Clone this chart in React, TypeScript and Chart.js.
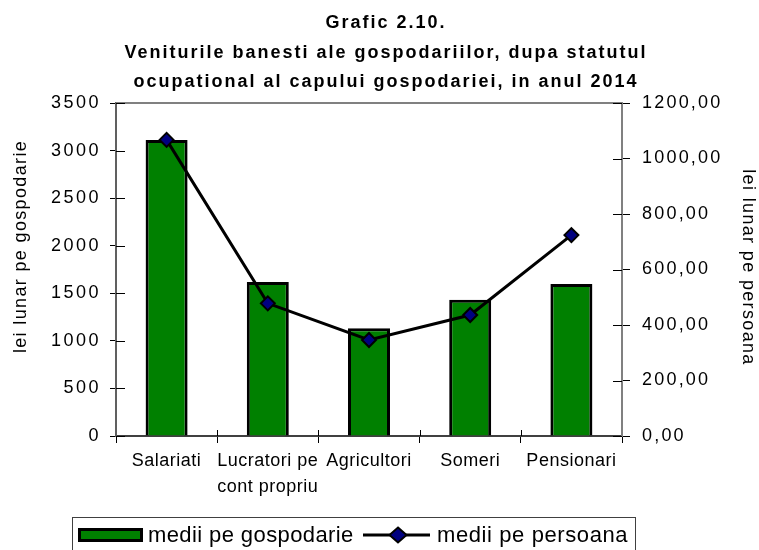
import React, { useEffect, useRef } from "react";
import { Chart, registerables } from "chart.js";

Chart.register(...registerables);

const categories: string[][] = [
  ["Salariati"],
  ["Lucratori pe", "cont propriu"],
  ["Agricultori"],
  ["Someri"],
  ["Pensionari"],
];
const householdValues = [3112, 1619, 1133, 1432, 1598];
const personValues = [1067, 478, 346, 436, 724];
const titleLines = [
  "Grafic 2.10.",
  "Veniturile banesti ale gospodariilor, dupa statutul",
  "ocupational al capului gospodariei, in anul 2014",
];
const leftAxisTitle = "lei lunar pe gospodarie";
const rightAxisTitle = "lei lunar pe persoana";
const seriesNames = ["medii pe gospodarie", "medii pe persoana"];

const FONT = "Arial, 'Liberation Sans', sans-serif";
const GREEN = "#008000";
const NAVY = "#000080";

function patchScale(scale: any, labelSpacing: string, titleSpacing: string, titleShiftY: number) {
  if (!scale || scale.__patched) return;
  const origLabels = scale.drawLabels;
  scale.drawLabels = function (area: any) {
    const c = this.ctx;
    c.save();
    (c as any).letterSpacing = labelSpacing;
    origLabels.call(this, area);
    c.restore();
  };
  const origTitle = scale.drawTitle;
  scale.drawTitle = function () {
    const c = this.ctx;
    c.save();
    (c as any).letterSpacing = titleSpacing;
    c.translate(0, titleShiftY);
    origTitle.call(this);
    c.restore();
  };
  scale.__patched = true;
}

const decorPlugin = {
  id: "decor",
  afterUpdate(chart: any) {
    patchScale(chart.scales.y, "2.5px", "1.35px", -23);
    patchScale(chart.scales.y1, "2.2px", "1.35px", -2);
    patchScale(chart.scales.x, "0.5px", "0px", 0);
  },
  beforeDatasetsDraw(chart: any) {
    const { ctx, chartArea, scales } = chart;
    ctx.save();
    ctx.strokeStyle = "#808080";
    ctx.lineWidth = 2;
    ctx.beginPath();
    ctx.moveTo(chartArea.left, chartArea.top);
    ctx.lineTo(chartArea.right, chartArea.top);
    ctx.stroke();
    // inward halves of tick marks
    ctx.strokeStyle = "#000";
    ctx.lineWidth = 1;
    ctx.beginPath();
    scales.y.ticks.forEach((t: any) => {
      const py = Math.round(scales.y.getPixelForValue(t.value)) + 0.5;
      ctx.moveTo(chartArea.left, py);
      ctx.lineTo(chartArea.left + 9, py);
    });
    scales.y1.ticks.forEach((t: any) => {
      const py = Math.round(scales.y1.getPixelForValue(t.value)) + 0.5;
      ctx.moveTo(chartArea.right - 9, py);
      ctx.lineTo(chartArea.right, py);
    });
    const n = categories.length;
    const step = (chartArea.right - chartArea.left) / n;
    for (let i = 1; i < n; i++) {
      const px = Math.round(chartArea.left + step * i) + 0.5;
      ctx.moveTo(px, chartArea.bottom - 6);
      ctx.lineTo(px, chartArea.bottom);
    }
    ctx.stroke();
    ctx.restore();
  },
  afterDraw(chart: any) {
    const { ctx } = chart;
    ctx.save();
    // title
    ctx.fillStyle = "#000";
    ctx.font = `bold 18px ${FONT}`;
    ctx.textAlign = "center";
    ctx.textBaseline = "alphabetic";
    (ctx as any).letterSpacing = "2px";
    const baselines = [28, 58, 87];
    titleLines.forEach((t, i) => ctx.fillText(t, 386, baselines[i]));
    (ctx as any).letterSpacing = "0px";

    // legend frame
    ctx.strokeStyle = "#404040";
    ctx.lineWidth = 1;
    ctx.strokeRect(72.5, 517.5, 563, 40);

    // bar swatch
    ctx.fillStyle = GREEN;
    ctx.fillRect(78, 528, 65, 14);
    ctx.strokeStyle = "#000";
    ctx.lineWidth = 3;
    ctx.strokeRect(79.5, 529.5, 62, 11);

    ctx.font = `22px ${FONT}`;
    (ctx as any).letterSpacing = "0.4px";
    ctx.fillStyle = "#000";
    ctx.textAlign = "left";
    ctx.textBaseline = "alphabetic";
    ctx.fillText(seriesNames[0], 148, 542);

    // line swatch
    ctx.beginPath();
    ctx.moveTo(363, 535);
    ctx.lineTo(430, 535);
    ctx.lineWidth = 3;
    ctx.strokeStyle = "#000";
    ctx.stroke();
    ctx.beginPath();
    ctx.moveTo(398, 527.5);
    ctx.lineTo(406.5, 535);
    ctx.lineTo(398, 542.5);
    ctx.lineTo(389.5, 535);
    ctx.closePath();
    ctx.fillStyle = NAVY;
    ctx.fill();
    ctx.lineWidth = 2;
    ctx.stroke();

    ctx.fillStyle = "#000";
    (ctx as any).letterSpacing = "0.6px";
    ctx.fillText(seriesNames[1], 437, 542);
    ctx.restore();
  },
};

export default function App() {
  const ref = useRef<HTMLCanvasElement | null>(null);

  useEffect(() => {
    document.body.style.margin = "0";
    const canvas = ref.current;
    if (!canvas) return;
    const chart = new Chart(canvas, {
      data: {
        labels: categories as any,
        datasets: [
          {
            type: "line",
            label: seriesNames[1],
            data: personValues,
            yAxisID: "y1",
            borderColor: "#000",
            borderWidth: 3,
            pointStyle: "rectRot",
            pointRadius: 7,
            pointBackgroundColor: NAVY,
            pointBorderColor: "#000",
            pointBorderWidth: 2,
            tension: 0,
            order: 1,
          } as any,
          {
            type: "bar",
            label: seriesNames[0],
            data: householdValues,
            yAxisID: "y",
            backgroundColor: GREEN,
            borderColor: "#000",
            borderWidth: 3,
            barPercentage: 1,
            categoryPercentage: 0.415,
            order: 2,
          } as any,
        ],
      },
      options: {
        responsive: false,
        animation: false,
        layout: { padding: { top: 103, bottom: 44, left: 0, right: 0 } },
        plugins: {
          legend: { display: false },
          tooltip: { enabled: false },
          title: { display: false },
        },
        scales: {
          x: {
            offset: true,
            grid: {
              display: true,
              drawOnChartArea: false,
              offset: true,
              tickLength: 7,
              color: "#000",
            },
            border: { color: "#404040", width: 2 },
            ticks: {
              font: { family: FONT, size: 18, lineHeight: 1.444 },
              color: "#000",
              padding: 5,
              maxRotation: 0,
              autoSkip: false,
            },
            afterFit: (s: any) => {
              s.height = 70;
            },
          },
          y: {
            position: "left",
            min: 0,
            max: 3500,
            ticks: {
              stepSize: 500,
              font: { family: FONT, size: 18 },
              color: "#000",
              padding: 9,
              callback: (v: any) => String(v),
            },
            grid: { drawOnChartArea: false, tickLength: 6, color: "#000" },
            border: { color: "#606060", width: 2 },
            title: {
              display: true,
              text: leftAxisTitle,
              font: { family: FONT, size: 18 },
              color: "#000",
              padding: { top: 10, bottom: 0 },
            },
            afterFit: (s: any) => {
              s.width = 116;
            },
          },
          y1: {
            position: "right",
            min: 0,
            max: 1200,
            ticks: {
              stepSize: 200,
              font: { family: FONT, size: 18 },
              color: "#000",
              padding: 12,
              callback: (v: any) => Number(v).toFixed(2).replace(".", ","),
            },
            grid: { drawOnChartArea: false, tickLength: 8, color: "#000" },
            border: { color: "#808080", width: 2 },
            title: {
              display: true,
              text: rightAxisTitle,
              font: { family: FONT, size: 18 },
              color: "#000",
              padding: { top: 0, bottom: 0 },
            },
            afterFit: (s: any) => {
              s.width = 137;
            },
          },
        },
      },
      plugins: [decorPlugin],
    });
    return () => chart.destroy();
  }, []);

  return (
    <div style={{ width: 759, height: 550, background: "#fff" }}>
      <canvas ref={ref} width={759} height={550} />
    </div>
  );
}
